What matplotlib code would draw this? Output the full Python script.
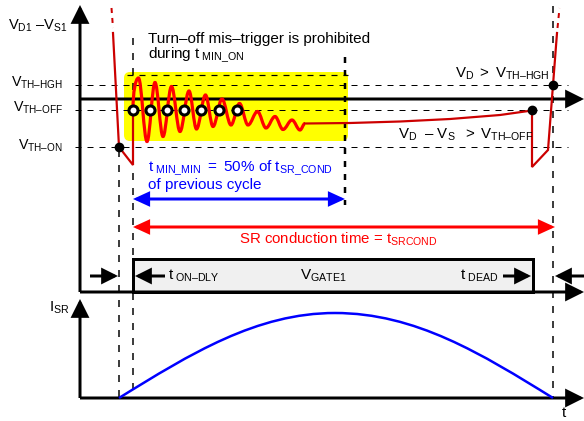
import matplotlib
matplotlib.use('Agg')
import matplotlib.pyplot as plt
from matplotlib.patches import FancyArrowPatch, FancyBboxPatch, Rectangle, PathPatch, ArrowStyle
from matplotlib.path import Path

plt.rcParams['font.family'] = ['Liberation Sans', 'DejaVu Sans']
plt.rcParams['mathtext.fontset'] = 'custom'
plt.rcParams['mathtext.rm'] = 'Liberation Sans'
plt.rcParams['mathtext.it'] = 'Liberation Sans:italic'
plt.rcParams['mathtext.bf'] = 'Liberation Sans:bold'

# ---------------- data (diagram units: time -> x, level -> y, y grows downward) ----
levels = {'V_TH_HGH': 85, 'AXIS': 99, 'V_TH_OFF': 110, 'V_TH_ON': 147}
t_marks = {'isr_start': 119, 'gate_on': 133, 'min_on_end': 345,
           'gate_off': 533, 'isr_end': 553}

# turn-on edge of V_D1-V_S1 (before ringing)
turnon_x = [113, 119, 133, 133]
turnon_y = [33, 147, 165, 110]
# ringing extrema
ring_peak_x = [138.5, 155, 171.5, 189, 205.5, 222, 239.5, 257.5, 275, 292]
ring_peak_y = [78, 82.5, 86.5, 91, 95, 99, 103.5, 111.5, 116.5, 120]
ring_trough_x = [147, 163, 180, 196.5, 213, 231, 248, 266, 283, 300]
ring_trough_y = [141.5, 136.5, 131.5, 129, 126.5, 125, 125, 128, 129.5, 130]
# slow rise during conduction
tail_x = [305, 350, 400, 450, 500, 532]
tail_y = [123.5, 123, 121.5, 119, 115, 110.5]
# turn-off edge
turnoff_x = [532, 532, 548, 557]
turnoff_y = [110.5, 167, 150, 33]
# comparator trigger circles on V_TH-OFF
circle_x = [133, 150.3, 167.3, 184, 201.3, 218.5, 237]
# I_SR half-sine: start, peak, end
isr_x = [119, 335, 553]
isr_y = [398, 313, 398]

W, H = 584, 421
fig = plt.figure(figsize=(W / 100, H / 100), dpi=100)
ax = fig.add_axes([0, 0, 1, 1])
ax.set_xlim(0, W)
ax.set_ylim(H, 0)
ax.axis('off')

PX = 0.72  # points per pixel


def arrow(x0, y0, x1, y1, color='black', lw=3, hl=13, hw=6.5, both=False, z=5):
    st = '<|-|>' if both else '-|>'
    style = ArrowStyle(st, head_length=hl * PX, head_width=hw * PX)
    p = FancyArrowPatch((x0, y0), (x1, y1), arrowstyle=style, mutation_scale=1,
                        lw=lw * PX, color=color, shrinkA=0, shrinkB=0,
                        joinstyle='miter', capstyle='butt', zorder=z)
    ax.add_patch(p)


def dline(xs, ys, lw=1.0, dash=(6, 6), color='black', z=2):
    ax.plot(xs, ys, color=color, lw=lw * PX, dashes=(dash[0] / lw, dash[1] / lw),
            solid_capstyle='butt', dash_capstyle='butt', zorder=z)


# yellow blanking window
yb = FancyBboxPatch((124, 72), 224, 69, boxstyle='round,pad=0,rounding_size=6',
                    fc='#ffff00', ec='none', zorder=1)
ax.add_patch(yb)
dline([127, 348], [75, 75], lw=1.2)

# horizontal threshold dashes
for key in ['V_TH_HGH', 'V_TH_OFF', 'V_TH_ON']:
    dline([75, 568], [levels[key], levels[key]], lw=1.0)

# vertical dashed markers
dline([t_marks['isr_start']] * 2, [150, 398], lw=1.5, dash=(7, 8))
dline([t_marks['gate_on']] * 2, [38, 398], lw=1.5, dash=(7, 8))
dline([t_marks['isr_end']] * 2, [6, 398], lw=1.5, dash=(7, 8))
dline([t_marks['min_on_end']] * 2, [57, 205], lw=2.5, dash=(6, 7))

# axes
arrow(80, 292, 80, 5, lw=3, hl=14, hw=7)
arrow(80, levels['AXIS'], 584, levels['AXIS'], lw=3, hl=14, hw=7)
arrow(80, 292, 584, 292, lw=3, hl=14, hw=7)
arrow(80, 398, 80, 299, lw=3, hl=14, hw=7)
arrow(80, 398, 584, 398, lw=3, hl=14, hw=7)

# gate pulse
ax.add_patch(Rectangle((t_marks['gate_on'], 259), t_marks['gate_off'] - t_marks['gate_on'],
                       292 - 259, fc='#f0f0f0', ec='black', lw=3 * PX, zorder=4,
                       joinstyle='miter'))

# ---- red V_D1 - V_S1 waveform ----
dark = '#cc0000'
ax.plot([111.5, 113], [8, 28], color=dark, lw=2 * PX, dashes=(2.5, 2.5), zorder=6)
ax.plot(turnon_x, turnon_y, color=dark, lw=2.2 * PX, zorder=6, solid_joinstyle='miter')

ext = []
for i in range(len(ring_peak_x)):
    ext.append((ring_peak_x[i], ring_peak_y[i]))
    ext.append((ring_trough_x[i], ring_trough_y[i]))
ext.append((tail_x[0], tail_y[0]))
verts = [(turnon_x[-1], turnon_y[-1]), (turnon_x[-1], 92), (ext[0][0] - 3, ext[0][1]), ext[0]]
codes = [Path.MOVETO, Path.CURVE4, Path.CURVE4, Path.CURVE4]
k = 0.36
for a, b in zip(ext[:-1], ext[1:]):
    dx = b[0] - a[0]
    verts += [(a[0] + k * dx, a[1]), (b[0] - k * dx, b[1]), b]
    codes += [Path.CURVE4] * 3
ax.add_patch(PathPatch(Path(verts, codes), fc='none', ec='#ff0000', lw=3.2 * PX, zorder=6))

ax.plot(tail_x, tail_y, color=dark, lw=2.2 * PX, zorder=6)
ax.plot(turnoff_x, turnoff_y, color=dark, lw=2.2 * PX, zorder=6, solid_joinstyle='miter')
ax.plot([557.5, 559.5], [28, 8], color=dark, lw=2 * PX, dashes=(2.5, 2.5), zorder=6)

# markers
ax.plot(circle_x, [levels['V_TH_OFF']] * len(circle_x), 'o', ms=6.5, mfc='white',
        mec='black', mew=2.2, zorder=7)
ax.plot([t_marks['isr_start'], 532, t_marks['isr_end']],
        [levels['V_TH_ON'], levels['V_TH_OFF'], levels['V_TH_HGH']],
        'o', ms=6, color='black', zorder=7)

# blue / red time arrows
arrow(t_marks['gate_on'], 199, t_marks['min_on_end'], 199, color='#0000ff', lw=3,
      hl=12, hw=5.5, both=True)
arrow(t_marks['gate_on'], 227, t_marks['isr_end'] + 2, 227, color='#ff0000', lw=3,
      hl=12, hw=5.5, both=True)

# gate timing arrows
arrow(90, 276, 118, 276, lw=3, hl=12, hw=6)
arrow(165, 276, 135, 276, lw=3, hl=12, hw=6)
arrow(503, 276, 531, 276, lw=3, hl=12, hw=6)
arrow(584, 276, 555, 276, lw=3, hl=12, hw=6)

# I_SR half sine (two cubic Bezier quarters)
x0, xp, x1 = isr_x
y0, yp, y1 = isr_y
wq = xp - x0
hq = y0 - yp
sv = [(x0, y0), (x0 + 0.331 * wq, y0 - 0.52 * hq), (x0 + 0.637 * wq, yp), (xp, yp),
      (x1 - 0.637 * wq, yp), (x1 - 0.331 * wq, y1 - 0.52 * hq), (x1, y1)]
sc = [Path.MOVETO] + [Path.CURVE4] * 6
ax.add_patch(PathPatch(Path(sv, sc), fc='none', ec='#0000ff', lw=2.5 * PX, zorder=6))

# ---- texts ----
fs = 11
tk = dict(va='baseline', zorder=8)
ax.text(8, 30, r'$\mathrm{V_{D1}\ –V_{S1}}$', ha='left', fontsize=10.5, **tk)
ax.text(63, 87, r'$\mathrm{V_{TH–HGH}}$', ha='right', fontsize=10.3, **tk)
ax.text(63, 112, r'$\mathrm{V_{TH–OFF}}$', ha='right', fontsize=10.3, **tk)
ax.text(63, 150, r'$\mathrm{V_{TH–ON}}$', ha='right', fontsize=10.3, **tk)
ax.text(148, 43, 'Turn–off mis–trigger is prohibited', ha='left', fontsize=fs, **tk)
ax.text(148, 59, r'during $\mathrm{t_{\ MIN\_ON}}$', ha='left', fontsize=fs, **tk)
ax.text(455, 78, r'$\mathrm{V_D\ >\ V_{TH–HGH}}$', ha='left', fontsize=10.8, **tk)
ax.text(398, 139, r'$\mathrm{V_D\ \ –\ V_S\ \ >\ V_{TH–OFF}}$', ha='left', fontsize=10.8, **tk)
ax.text(148, 172, r'$\mathrm{t_{\ MIN\_MIN}\ =\ 50\%\ of\ t_{SR\_COND}}$', ha='left',
        color='#0000ff', fontsize=fs, **tk)
ax.text(148, 189, 'of previous cycle', ha='left', color='#0000ff', fontsize=fs, **tk)
ax.text(239, 244, r'SR conduction time = $\mathrm{t_{SRCOND}}$', ha='left',
        color='#ff0000', fontsize=10.8, **tk)
ax.text(168, 280, r'$\mathrm{t_{\ ON–DLY}}$', ha='left', fontsize=fs, **tk)
ax.text(300, 280, r'$\mathrm{V_{GATE1}}$', ha='left', fontsize=fs, **tk)
ax.text(460, 280, r'$\mathrm{t_{\ DEAD}}$', ha='left', fontsize=fs, **tk)
ax.text(49, 312, r'$\mathrm{I_{SR}}$', ha='left', fontsize=fs, **tk)
ax.text(562, 417, 't', ha='left', fontsize=fs, **tk)

fig.savefig('out.png', dpi=100)
